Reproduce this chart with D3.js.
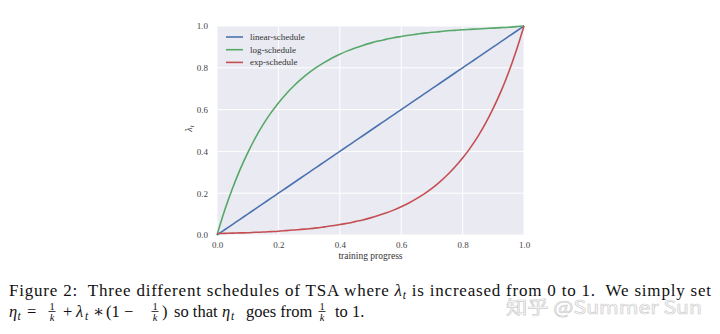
<!DOCTYPE html>
<html>
<head>
<meta charset="utf-8">
<script src="https://cdn.jsdelivr.net/npm/d3@7"></script>
<style>
  html, body { margin: 0; padding: 0; background: #fff; }
  svg { display: block; }
  svg text { white-space: pre; }
</style>
</head>
<body>
<svg id="chart" width="720" height="334"></svg>
<script>
// Training progress samples
const progress = [0, 0.025, 0.05, 0.075, 0.1, 0.125, 0.15, 0.175, 0.2, 0.225, 0.25,
                  0.275, 0.3, 0.325, 0.35, 0.375, 0.4, 0.425, 0.45, 0.475, 0.5,
                  0.525, 0.55, 0.575, 0.6, 0.625, 0.65, 0.675, 0.7, 0.725, 0.75,
                  0.775, 0.8, 0.825, 0.85, 0.875, 0.9, 0.925, 0.95, 0.975, 1.0];
// Threshold schedules lambda_t
const linearSchedule = [0, 0.025, 0.05, 0.075, 0.1, 0.125, 0.15, 0.175, 0.2, 0.225, 0.25,
                        0.275, 0.3, 0.325, 0.35, 0.375, 0.4, 0.425, 0.45, 0.475, 0.5,
                        0.525, 0.55, 0.575, 0.6, 0.625, 0.65, 0.675, 0.7, 0.725, 0.75,
                        0.775, 0.8, 0.825, 0.85, 0.875, 0.9, 0.925, 0.95, 0.975, 1.0];
const logSchedule = [0, 0.118, 0.221, 0.313, 0.393, 0.465, 0.528, 0.583, 0.632, 0.675, 0.713,
                     0.747, 0.777, 0.803, 0.826, 0.847, 0.865, 0.881, 0.895, 0.907, 0.918,
                     0.928, 0.936, 0.944, 0.950, 0.956, 0.961, 0.966, 0.970, 0.973, 0.977,
                     0.979, 0.982, 0.984, 0.986, 0.988, 0.990, 0.992, 0.994, 0.997, 1.0];
const expSchedule = [0.007, 0.008, 0.009, 0.010, 0.011, 0.013, 0.014, 0.016, 0.018, 0.021, 0.024,
                     0.027, 0.030, 0.034, 0.039, 0.044, 0.050, 0.056, 0.064, 0.072, 0.082,
                     0.093, 0.105, 0.119, 0.135, 0.153, 0.174, 0.197, 0.223, 0.253, 0.287,
                     0.325, 0.368, 0.417, 0.472, 0.535, 0.607, 0.687, 0.779, 0.883, 1.0];
const seriesNames = ["linear-schedule", "log-schedule", "exp-schedule"];
const seriesColors = ["#4c72b0", "#55a868", "#c44e52"];
const xTicks = [0, 0.2, 0.4, 0.6, 0.8, 1.0];
const yTicks = [0, 0.2, 0.4, 0.6, 0.8, 1.0];

const svg = d3.select("#chart");
const plot = { left: 217, right: 524, top: 26, bottom: 235 };

const x = d3.scaleLinear().domain([0, 1]).range([plot.left, plot.right]);
const y = d3.scaleLinear().domain([0, 1]).range([plot.bottom, plot.top]);

const serif = "'Liberation Serif', 'DejaVu Serif', serif";

// Plot background
svg.append("rect")
  .attr("x", plot.left).attr("y", plot.top)
  .attr("width", plot.right - plot.left).attr("height", plot.bottom - plot.top)
  .attr("fill", "#eaeaf2");

// Grid
const grid = svg.append("g");
grid.selectAll("line.vx").data(xTicks).join("line")
  .attr("x1", d => x(d)).attr("x2", d => x(d))
  .attr("y1", plot.top).attr("y2", plot.bottom)
  .attr("stroke", "#fff").attr("stroke-width", 1);
grid.selectAll("line.hy").data(yTicks).join("line")
  .attr("x1", plot.left).attr("x2", plot.right)
  .attr("y1", d => y(d)).attr("y2", d => y(d))
  .attr("stroke", "#fff").attr("stroke-width", 1);

// Axes (labels only, seaborn darkgrid style)
const xAxis = svg.append("g")
  .attr("transform", `translate(0,${plot.bottom})`)
  .call(d3.axisBottom(x).tickValues(xTicks).tickFormat(d3.format(".1f")).tickSize(0).tickPadding(7));
const yAxis = svg.append("g")
  .attr("transform", `translate(${plot.left},0)`)
  .call(d3.axisLeft(y).tickValues(yTicks).tickFormat(d3.format(".1f")).tickSize(0).tickPadding(9));
[xAxis, yAxis].forEach(a => {
  a.select(".domain").remove();
  a.selectAll("text").attr("font-family", serif).attr("font-size", 9).attr("fill", "#444");
});

// Axis titles
svg.append("text")
  .attr("x", (plot.left + plot.right) / 2).attr("y", 259)
  .attr("text-anchor", "middle")
  .attr("font-family", serif).attr("font-size", 9.5).attr("fill", "#333")
  .text("training progress");

const ylab = svg.append("text")
  .attr("transform", `translate(192,${(plot.top + plot.bottom) / 2 - 2}) rotate(-90)`)
  .attr("text-anchor", "middle")
  .attr("font-family", serif).attr("font-size", 10).attr("fill", "#333");
ylab.append("tspan").attr("font-style", "italic").text("λ");
ylab.append("tspan").attr("font-style", "italic").attr("font-size", 7).attr("dy", 2).text("t");

// Lines
const seriesData = [linearSchedule, logSchedule, expSchedule];
const line = d3.line()
  .x((d, i) => x(progress[i]))
  .y(d => y(d))
  .curve(d3.curveMonotoneX);

svg.append("g").selectAll("path").data(seriesData).join("path")
  .attr("d", d => line(d))
  .attr("fill", "none")
  .attr("stroke", (d, i) => seriesColors[i])
  .attr("stroke-width", 1.6)
  .attr("stroke-linejoin", "round");

// Legend
const legend = svg.append("g");
seriesNames.forEach((name, i) => {
  const ly = 37 + i * 12.7;
  legend.append("line")
    .attr("x1", 226).attr("x2", 243).attr("y1", ly).attr("y2", ly)
    .attr("stroke", seriesColors[i]).attr("stroke-width", 1.6);
  legend.append("text")
    .attr("x", 250).attr("y", ly + 3)
    .attr("font-family", serif).attr("font-size", 9).attr("fill", "#333")
    .text(name);
});

// Site watermark (drawn beneath the caption)
svg.append("text")
  .attr("x", 506).attr("y", 314)
  .attr("font-family", "'Noto Sans CJK SC', 'Noto Sans', sans-serif")
  .attr("font-size", 18)
  .attr("fill", "rgba(255,255,255,0.6)")
  .attr("stroke", "#cfcfcf").attr("stroke-width", 0.7)
  .attr("textLength", 196).attr("lengthAdjust", "spacingAndGlyphs")
  .text("知乎 @Summer Sun");

// Caption
const cap = svg.append("g").attr("font-family", serif).attr("fill", "#111");
const fs = 17;

const line1 = cap.append("text").attr("x", 9).attr("y", 296).attr("font-size", fs);
line1.append("tspan").text("Figure 2:  Three different schedules of TSA where ");
line1.append("tspan").attr("font-style", "italic").text("λ");
line1.append("tspan").attr("font-style", "italic").attr("font-size", 11.5).attr("dy", 3).text("t");
line1.append("tspan").attr("dy", -3).text(" is increased from 0 to 1.  We simply set");
line1.attr("textLength", 702).attr("lengthAdjust", "spacing");

// Second line: typeset pieces (subscripts and stacked fractions)
const base2 = 317;
const fs2 = 16.5;
function word(px, str, opts = {}) {
  cap.append("text")
    .attr("x", px).attr("y", base2 + (opts.dy || 0))
    .attr("font-size", opts.size || fs2)
    .attr("font-style", opts.italic ? "italic" : null)
    .text(str);
}
function frac(mid, num, den) {
  cap.append("text").attr("x", mid).attr("y", base2 - 7).attr("font-size", 10.5)
    .attr("text-anchor", "middle").text(num);
  cap.append("line").attr("x1", mid - 3.5).attr("x2", mid + 3.5)
    .attr("y1", base2 - 5.5).attr("y2", base2 - 5.5)
    .attr("stroke", "#111").attr("stroke-width", 0.8);
  cap.append("text").attr("x", mid).attr("y", base2 + 4).attr("font-size", 10.5)
    .attr("font-style", "italic").attr("text-anchor", "middle").text(den);
}
word(9, "η", { italic: true });
word(17.5, "t", { italic: true, size: 11.5, dy: 3 });
word(27, "=");
frac(52, "1", "k");
word(63, "+");
word(76, "λ", { italic: true });
word(85, "t", { italic: true, size: 11.5, dy: 3 });
word(93, "∗");
word(106, "(1");
word(124, "−");
frac(155, "1", "k");
word(162, ")");
word(174, "so that");
word(222, "η", { italic: true });
word(231, "t", { italic: true, size: 11.5, dy: 3 });
word(246, "goes from");
frac(322, "1", "k");
word(335, "to 1.");
</script>
</body>
</html>
